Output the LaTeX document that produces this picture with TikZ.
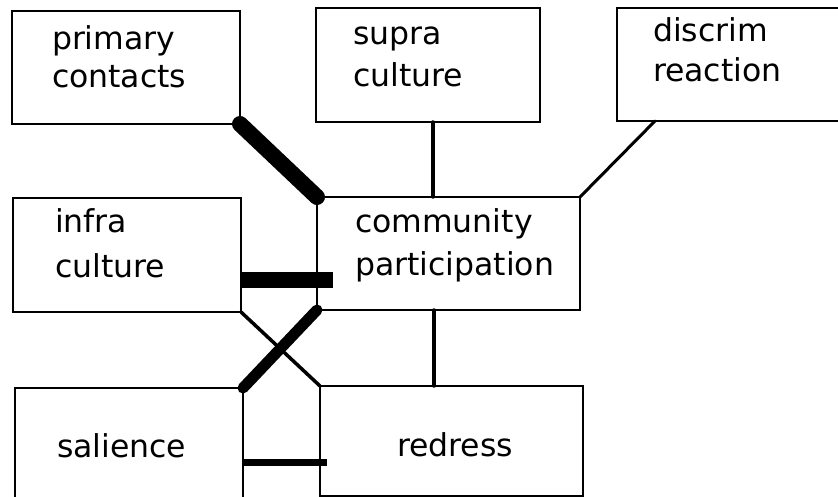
\documentclass[tikz,border=0pt]{standalone}
\usepackage{fontspec}
\setmainfont{DejaVu Sans}
\usetikzlibrary{calc}

\tikzset{
  box/.style={draw, line width=2.6pt, rectangle, inner sep=0pt, outer sep=0pt,
              anchor=north west},
  word/.style={anchor=base west, inner sep=0pt, outer sep=0pt,
               font=\fontsize{31.5pt}{40pt}\selectfont},
  link/.style={line width=3.5pt, line cap=round},
  heavy/.style={line width=#1, line cap=round},
  bar/.style={line width=#1, line cap=butt}
}

\begin{document}
\begin{tikzpicture}[x=1pt, y=-1pt]
  \useasboundingbox (0,0) rectangle (838,497);
  \clip (0,0) rectangle (838,497);
  \fill[white] (0,0) rectangle (838,497);

  % boxes
  \node[box, minimum width=228pt, minimum height=113pt] (prim) at (12,11) {};
  \node[box, minimum width=224pt, minimum height=114pt] (supra) at (316,8) {};
  \node[box, minimum width=233pt, minimum height=113pt] (disc) at (617,8) {};
  \node[box, minimum width=228pt, minimum height=114pt] (infra) at (13,198) {};
  \node[box, minimum width=263pt, minimum height=113pt] (comm) at (317,197) {};
  \node[box, minimum width=228pt, minimum height=114pt] (sal) at (15,388) {};
  \node[box, minimum width=263pt, minimum height=110pt] (red) at (320,386) {};

  % labels
  \node[word] (prim1) at (52,50) {primary};
  \node[word] (prim2) at (52,88) {contacts};
  \node[word] (supra1) at (353,45) {supra};
  \node[word] (supra2) at (353,87) {culture};
  \node[word] (disc1) at (653,42) {discrim};
  \node[word] (disc2) at (653,82) {reaction};
  \node[word] (infra1) at (55,233) {infra};
  \node[word] (infra2) at (55,277) {culture};
  \node[word] (comm1) at (355,233) {community};
  \node[word] (comm2) at (355,275) {participation};
  \node[word] (sal1) at (57,457) {salience};
  \node[word] (red1) at (397,456) {redress};

  % connectors
  \draw[heavy=16pt] (prim.south east) -- (comm.north west);
  \draw[link] ($(supra.south west)+(117,0)$) -- ($(supra.south west |- comm.north)+(117,0)$);
  \draw[link, line width=3pt] ($(disc.south west)+(38,0)$) -- (comm.north east);
  \draw[bar=16pt] ($(infra.east)+(0,25)$) -- ($(comm.west |- infra.east)+(16,25)$);
  \draw[link] (infra.south east) -- (red.north west);
  \draw[heavy=11pt] (comm.south west) -- (sal.north east);
  \draw[link] ($(comm.south west)+(117,0)$) -- ($(comm.south west |- red.north)+(117,0)$);
  \draw[bar=7pt] ($(sal.north east)+(0,74)$) -- ($(red.north west |- sal.north east)+(7,74)$);
\end{tikzpicture}
\end{document}
